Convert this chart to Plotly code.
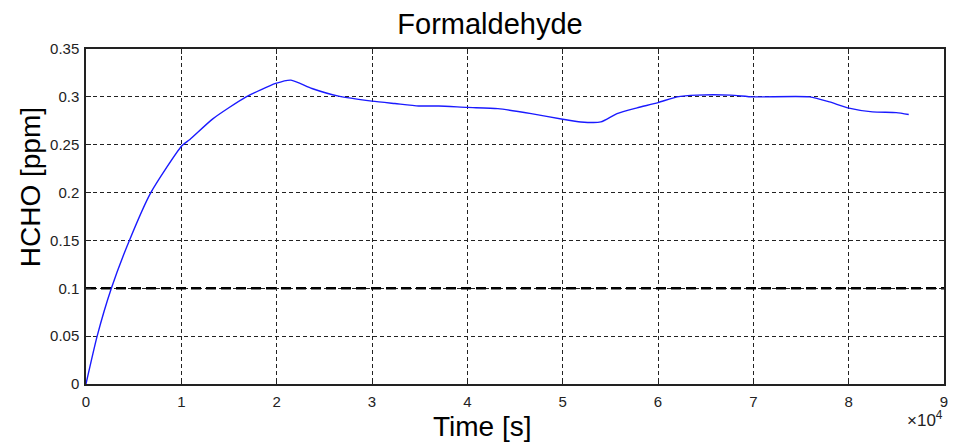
import plotly.graph_objects as go

# Measured formaldehyde concentration over time
time_s = [0, 1170, 2660, 4550, 6800, 10060, 10900, 13300, 16800, 19900,
          21500, 23700, 26500, 30000, 32400, 34900, 37000, 40000, 43200,
          46700, 50000, 51900, 54000, 55700, 57800, 60000, 62000, 64100,
          67600, 70000, 75900, 78000, 79900, 82500, 85000, 86300]
hcho_ppm = [0, 0.05, 0.1, 0.15, 0.2, 0.249, 0.2555, 0.277, 0.3, 0.314,
            0.3175, 0.3087, 0.3007, 0.2955, 0.293, 0.2905, 0.2905, 0.289, 0.2877,
            0.2825, 0.2766, 0.2738, 0.2738, 0.2825, 0.2885, 0.294, 0.300, 0.3018,
            0.3018, 0.300, 0.300, 0.2947, 0.2885, 0.2843, 0.2835, 0.2815]

# Exposure limit drawn as a dashed reference line
limit_x = [0, 90000]
limit_ppm = [0.1, 0.1]

x_tickvals = [0, 10000, 20000, 30000, 40000, 50000, 60000, 70000, 80000, 90000]
x_ticktext = ["0", "1", "2", "3", "4", "5", "6", "7", "8", "9"]
y_tickvals = [0, 0.05, 0.1, 0.15, 0.2, 0.25, 0.3, 0.35]
y_ticktext = ["0", "0.05", "0.1", "0.15", "0.2", "0.25", "0.3", "0.35"]

FONT = "Liberation Sans, Arial, sans-serif"

fig = go.Figure()
fig.add_trace(go.Scatter(x=limit_x, y=limit_ppm, mode="lines",
                         line=dict(color="black", width=2.6, dash="10px,5px"),
                         hoverinfo="skip", showlegend=False))
fig.add_trace(go.Scatter(x=time_s, y=hcho_ppm, mode="lines",
                         line=dict(color="#1a1aff", width=1.4, shape="spline",
                                   smoothing=0.6),
                         showlegend=False))

axis_common = dict(
    showline=True, linecolor="#222", linewidth=1.5, mirror="ticks",
    ticks="inside", ticklen=5, tickcolor="#222", tickwidth=1.2,
    showgrid=True, gridcolor="#222", gridwidth=1.1, griddash="4px,3px",
    zeroline=False, tickfont=dict(family=FONT, size=15, color="#222"),
)

fig.update_xaxes(range=[0, 90000], tickvals=x_tickvals, ticktext=x_ticktext,
                 ticklabelstandoff=3, **axis_common)
fig.update_yaxes(range=[0, 0.35], tickvals=y_tickvals, ticktext=y_ticktext,
                 ticklabelstandoff=2, **axis_common)

fig.update_layout(
    width=960, height=443,
    margin=dict(l=86, r=12, t=49, b=59),
    paper_bgcolor="white", plot_bgcolor="white",
    title=dict(text="Formaldehyde", x=490 / 960, xanchor="center",
               y=1 - 24 / 443, yanchor="middle", xref="container", yref="container",
               font=dict(family=FONT, size=29, color="black")),
    annotations=[
        dict(text="Time [s]", xref="paper", yref="paper",
             x=(484 - 86) / 862, y=-(427 - 384) / 335,
             xanchor="center", yanchor="middle", showarrow=False,
             font=dict(family=FONT, size=28, color="black")),
        dict(text="HCHO [ppm]", xref="paper", yref="paper",
             x=-(86 - 30) / 862, y=(384 - 187) / 335, textangle=-90,
             xanchor="center", yanchor="middle", showarrow=False,
             font=dict(family=FONT, size=28, color="black")),
        dict(text="\u00d710<sup>4</sup>", xref="paper", yref="paper",
             x=(929 - 86) / 862, y=-(419 - 384) / 335,
             xanchor="center", yanchor="middle", showarrow=False,
             font=dict(family=FONT, size=17, color="#222")),
    ],
)

fig.write_html("out.html")
